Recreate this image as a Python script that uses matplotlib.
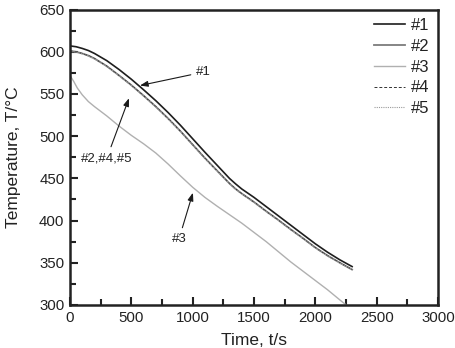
import matplotlib
matplotlib.use("Agg")
import matplotlib.pyplot as plt
from matplotlib.ticker import MultipleLocator

plt.rcParams['font.family'] = ['Liberation Sans', 'DejaVu Sans']

t12 = [0, 50, 100, 150, 200, 300, 400, 500, 600, 700, 800, 900, 1000, 1100, 1200,
       1300, 1350, 1400, 1500, 1600, 1700, 1800, 1900, 2000, 2100, 2200, 2300]
T1 = [607, 606, 604, 601.5, 598, 589.5, 579, 567.5, 555, 542, 528, 513, 497, 481, 465.5,
      450, 443.5, 437.5, 427.5, 416.5, 405.5, 394.5, 383.5, 372.5, 362.5, 353.5, 345.5]
T2 = [601, 600, 598, 595.5, 592, 583, 572, 560.5, 548, 535, 521, 506, 490, 474, 459,
      444, 437.5, 432, 422, 411, 400.5, 389.5, 379, 368, 358.5, 350, 342]
T4 = [601, 600, 598, 595.5, 592, 583, 572, 560.5, 548, 535, 521, 506, 490, 474, 459,
      444, 437.5, 432, 422, 411, 400.5, 389.5, 379, 368, 358.5, 350, 342]
T5 = [600.5, 599.5, 597.5, 595, 591.5, 582.5, 571.5, 560, 547.5, 534.5, 520.5, 505.5, 489.5,
      473.5, 458.5, 443.5, 437, 431.5, 421.5, 410.5, 400, 389, 378.5, 367.5, 358, 349.5, 341.5]
t3 = [0, 30, 60, 100, 150, 200, 300, 400, 500, 600, 700, 800, 900, 1000, 1100, 1200,
      1300, 1400, 1500, 1600, 1700, 1800, 1900, 2000, 2100, 2200, 2260]
T3 = [572, 565, 557, 549, 541, 535, 524, 512, 501, 491, 480, 467, 453, 439.5, 427.5, 417,
      407, 397, 386, 375, 363, 351, 340, 329, 318, 306, 299]

labels = ['#1', '#2', '#3', '#4', '#5']

fig = plt.figure(figsize=(4.56, 3.48), dpi=100)
ax = fig.add_axes([0.1535, 0.1236, 0.807, 0.8488])

ax.plot(t12, T1, color='#1e1e1e', lw=1.2, label=labels[0])
ax.plot(t12, T2, color='#7c7c7c', lw=1.3, label=labels[1])
ax.plot(t3, T3, color='#b0b0b0', lw=1.0, label=labels[2])
ax.plot(t12, T4, color='#333333', lw=0.7, ls=(0, (3, 2)), label=labels[3])
ax.plot(t12, T5, color='#9a9a9a', lw=0.8, ls=(0, (1, 1)), label=labels[4])

ax.set_xlim(0, 3000)
ax.set_ylim(300, 650)
ax.xaxis.set_major_locator(MultipleLocator(500))
ax.xaxis.set_minor_locator(MultipleLocator(250))
ax.yaxis.set_major_locator(MultipleLocator(50))
ax.yaxis.set_minor_locator(MultipleLocator(25))
ax.tick_params(which='both', direction='in', top=False, right=False,
               labelsize=10.8, labelcolor='#222222', width=1.5, color='#222222')
ax.tick_params(which='major', length=6, pad=4)
ax.tick_params(which='minor', length=4)
for s in ax.spines.values():
    s.set_linewidth(1.8)
    s.set_color('#222222')

ax.set_xlabel('Time, t/s', fontsize=12.5, color='#222222', labelpad=6)
ax.set_ylabel('Temperature, T/°C', fontsize=12.5, color='#222222', labelpad=13)

leg = ax.legend(loc='upper right', frameon=False, fontsize=12, handlelength=1.9,
                labelspacing=0.35, handletextpad=0.35, borderaxespad=0.1)
for txt in leg.get_texts():
    txt.set_color('#222222')

arrow = dict(arrowstyle='-|>,head_length=0.5,head_width=0.18', color='#1a1a1a', lw=0.8,
             shrinkA=2, shrinkB=0)
ax.annotate('#1', xy=(570, 560), xytext=(1090, 576), fontsize=9.5, color='#222222',
            ha='center', va='center', arrowprops=arrow)
ax.annotate('#2,#4,#5', xy=(481, 545), xytext=(300, 474), fontsize=9.5, color='#222222',
            ha='center', va='center', arrowprops=arrow)
ax.annotate('#3', xy=(1002, 433), xytext=(888, 378), fontsize=9.5, color='#222222',
            ha='center', va='center', arrowprops=arrow)

fig.savefig('out.png', dpi=100)
